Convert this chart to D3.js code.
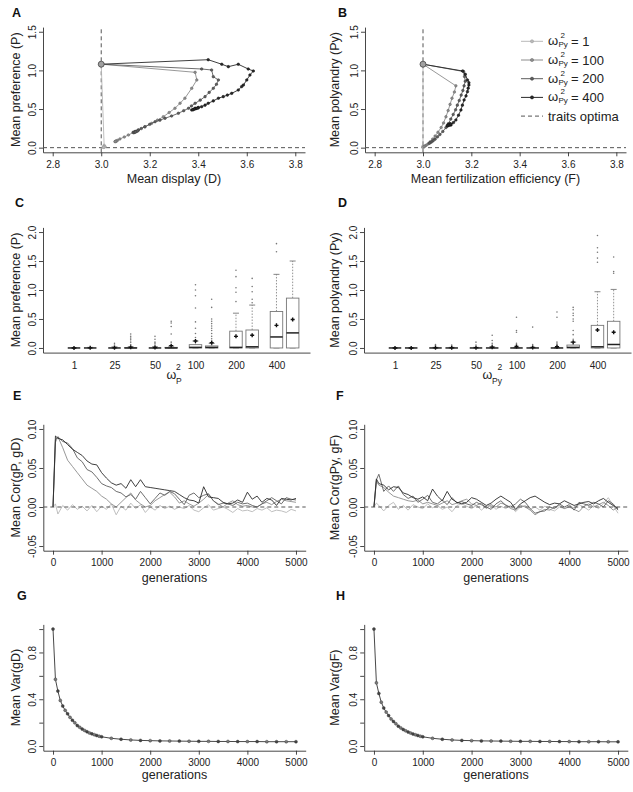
<!DOCTYPE html>
<html><head><meta charset="utf-8">
<script src="https://cdn.jsdelivr.net/npm/d3@7/dist/d3.min.js"></script>
<style>html,body{margin:0;padding:0;background:#fff}</style>
</head><body>
<svg id="chart" width="633" height="792" xmlns="http://www.w3.org/2000/svg"></svg>
<script>
// ---------------- data ----------------
const seriesLabels = ["1", "100", "200", "400"];
const seriesColors = ["#b8b8b8", "#8c8c8c", "#5e5e5e", "#2a2a2a"];
const seriesDark   = ["#9a9a9a", "#666666", "#3c3c3c", "#111111"];

// Panel A: [mean display D, mean preference P]
const trajA1 = [[3.00,1.08],[3.012,0.03],[3.014,0.015],[3.01,0.01],[3.016,0.012],[3.008,0.006],[3.012,0.008],[3.01,0.004]];
const trajA100 = [[3.00,1.08],[3.387,0.975],[3.394,0.876],[3.373,0.768],[3.345,0.64],[3.325,0.575],[3.304,0.51],[3.28,0.455],[3.256,0.40],[3.232,0.356],[3.208,0.315],[3.18,0.27],[3.153,0.229],[3.132,0.195],[3.112,0.164],[3.095,0.138],[3.077,0.113],[3.067,0.095],[3.06,0.085],[3.057,0.078],[3.062,0.082],[3.058,0.08]];
const trajA200 = [[3.00,1.08],[3.414,1.018],[3.455,1.005],[3.462,0.918],[3.483,0.876],[3.475,0.82],[3.462,0.768],[3.445,0.715],[3.428,0.66],[3.408,0.615],[3.387,0.574],[3.372,0.54],[3.36,0.51],[3.34,0.478],[3.318,0.445],[3.29,0.41],[3.263,0.38],[3.242,0.356],[3.222,0.336],[3.2,0.302],[3.18,0.27],[3.165,0.247],[3.153,0.229],[3.14,0.21],[3.132,0.2],[3.14,0.205],[3.135,0.195],[3.145,0.21],[3.138,0.2],[3.15,0.215],[3.142,0.205]];
const trajA400 = [[3.00,1.08],[3.441,1.138],[3.497,1.079],[3.524,1.048],[3.565,1.079],[3.606,1.018],[3.627,0.992],[3.613,0.94],[3.60,0.876],[3.586,0.81],[3.579,0.79],[3.565,0.746],[3.538,0.703],[3.52,0.68],[3.503,0.66],[3.483,0.64],[3.462,0.605],[3.441,0.574],[3.428,0.55],[3.414,0.53],[3.40,0.52],[3.387,0.51],[3.373,0.488],[3.39,0.505],[3.38,0.495],[3.4,0.515],[3.385,0.5],[3.395,0.51],[3.378,0.49]];

// Panel B: [mean fertilization efficiency F, mean polyandry Py]
const trajB1 = [[3.0,1.08],[3.0,0.02],[3.002,0.01],[3.0,0.005],[3.001,0.012],[3.0,0.008]];
const trajB100 = [[3.0,1.08],[3.136,0.80],[3.13,0.72],[3.12,0.64],[3.112,0.56],[3.104,0.48],[3.095,0.40],[3.085,0.32],[3.075,0.26],[3.062,0.2],[3.05,0.15],[3.04,0.11],[3.03,0.075],[3.022,0.05],[3.015,0.035],[3.01,0.025],[3.006,0.018],[3.004,0.012]];
const trajB200 = [[3.0,1.08],[3.168,0.985],[3.172,0.92],[3.175,0.86],[3.17,0.8],[3.165,0.74],[3.158,0.68],[3.15,0.61],[3.142,0.55],[3.135,0.49],[3.125,0.43],[3.115,0.37],[3.105,0.31],[3.095,0.26],[3.082,0.21],[3.07,0.17],[3.06,0.14],[3.05,0.11],[3.042,0.09],[3.036,0.075],[3.03,0.065],[3.026,0.058]];
const trajB400 = [[3.0,1.08],[3.164,0.992],[3.175,0.95],[3.184,0.876],[3.19,0.84],[3.19,0.81],[3.187,0.77],[3.184,0.725],[3.178,0.67],[3.17,0.617],[3.163,0.55],[3.157,0.488],[3.147,0.42],[3.136,0.358],[3.126,0.325],[3.116,0.294],[3.102,0.28],[3.11,0.29],[3.105,0.3],[3.112,0.31],[3.1,0.285],[3.108,0.295],[3.115,0.305]];

// Panels C / D boxplots (12 boxes: two per omega^2 group)
const groupLabels = ["1", "25", "50", "100", "200", "400"];
const groupPos = [1, 3.5, 6, 8.5, 11, 13.5];
const boxPos = [1, 2, 3.5, 4.5, 6, 7, 8.5, 9.5, 11, 12, 13.5, 14.5];

const cLo   = [0,0,0,0,0,0,0,0,0,0,0,0];
const cQ1   = [0,0,0,0,0,0,0,0,0,0,0,0];
const cMed  = [0,0,0,0,0,0,0.01,0.01,0.01,0.02,0.19,0.26];
const cQ3   = [0,0,0,0.005,0,0.01,0.057,0.035,0.29,0.31,0.63,0.86];
const cHi   = [0,0.01,0.02,0.02,0.02,0.03,0.12,0.08,0.6,0.74,1.27,1.5];
const cMean = [0,0.002,0.003,0.012,0.008,0.04,0.12,0.09,0.2,0.22,0.39,0.49];
const cOut  = [[],[],[0.05,0.08],[0.06,0.1,0.14,0.17,0.2,0.24],[0.05,0.08,0.1,0.15,0.2],[0.1,0.24,0.37,0.43,0.46],
               [0.18,0.25,0.34,0.45,0.69,0.9,1.0,1.09],[0.12,0.16,0.2,0.25,0.3,0.34,0.38,0.42,0.46,0.5,0.7,0.84],
               [0.8,0.96,1.04,1.23,1.34],[0.78,0.84,0.97,1.06,1.2],[1.66,1.8],[]];

const dLo   = [0,0,0,0,0,0,0,0,0,0,0,0];
const dQ1   = [0,0,0,0,0,0,0,0,0,0,0,0];
const dMed  = [0,0,0,0,0,0,0,0,0,0.01,0.02,0.06];
const dQ3   = [0,0,0,0,0,0,0,0,0,0.05,0.39,0.46];
const dHi   = [0,0,0.01,0.01,0.01,0.02,0.01,0.01,0.01,0.1,0.97,1.01];
const dMean = [0,0,0.003,0.004,0.005,0.012,0.025,0.01,0.02,0.1,0.31,0.27];
const dOut  = [[],[],[0.04,0.06],[0.03,0.05],[0.05,0.1],[0.05,0.08,0.13,0.22],
               [0.05,0.08,0.27,0.3,0.53],[0.03,0.06,0.36],[0.05,0.07,0.1,0.53,0.62],
               [0.15,0.23,0.3,0.46,0.5,0.56,0.6,0.66,0.7],[1.48,1.55,1.65,1.73,1.94],[1.29,1.32,1.57]];

// Panels E / F: mean genetic correlations
const gensCor = [0,50,100,200,300,400,500,600,700,800,900,1000,1100,1200,1300,1400,1500,1600,1700,1800,1900,2000,2100,2200,2300,2400,2500,2600,2700,2800,2900,3000,3100,3200,3300,3400,3500,3600,3700,3800,3900,4000,4100,4200,4300,4400,4500,4600,4700,4800,4900,5000];
const corE1 = [0,0.004,-0.009,0.002,-0.004,0.003,-0.003,0.001,-0.005,0.002,-0.006,0.001,
 -0.003,0.004,-0.010,0.001,-0.004,0.005,-0.002,0.003,-0.007,0.000,
 -0.004,0.002,-0.002,0.001,-0.003,0.000,-0.002,0.002,-0.004,-0.006,
 -0.001,0.003,-0.004,-0.002,0.000,-0.003,-0.007,-0.002,-0.005,-0.004,
 -0.006,-0.002,-0.004,-0.001,-0.006,-0.004,-0.005,-0.007,-0.003,-0.005];
const corE100 = [0,0.083,0.090,0.076,0.060,0.052,0.044,0.036,0.028,0.024,0.020,0.014,
 0.010,0.004,0.000,0.006,0.012,0.018,0.009,0.004,0.000,0.002,
 0.008,0.012,0.016,0.019,0.013,0.005,0.008,0.004,0.001,0.005,
 0.010,0.016,0.008,0.004,0.000,0.005,0.008,0.003,0.001,0.002,
 0.000,0.000,0.004,0.006,0.003,0.007,0.010,0.008,0.007,0.006];
const corE200 = [0,0.086,0.090,0.084,0.082,0.075,0.063,0.058,0.048,0.045,0.038,0.030,
 0.027,0.025,0.020,0.018,0.013,0.016,0.010,0.020,0.012,0.004,
 0.011,0.018,0.015,0.020,0.017,0.010,0.003,0.015,0.018,0.012,
 0.015,0.017,0.008,0.003,0.005,0.004,0.002,0.006,0.004,0.005,
 0.002,0.000,0.004,0.008,0.012,0.008,0.004,0.012,0.010,0.009];
const corE400 = [0,0.091,0.088,0.086,0.080,0.074,0.070,0.066,0.059,0.055,0.054,0.044,
 0.037,0.031,0.028,0.030,0.024,0.035,0.026,0.035,0.026,0.025,
 0.024,0.023,0.022,0.021,0.020,0.016,0.012,0.009,0.008,0.005,
 0.026,0.013,0.012,0.011,0.006,0.004,0.005,0.009,0.006,0.019,
 0.010,0.014,0.006,0.011,0.009,0.002,0.011,0.010,0.009,0.011];
const corF1 = [0,0.005,0.002,-0.005,0.002,0.006,-0.003,0.002,-0.004,0.003,0.000,-0.002,
 0.004,-0.001,0.002,-0.003,0.000,-0.006,0.002,0.004,0.001,-0.002,
 0.002,-0.004,0.001,0.003,-0.003,0.001,-0.002,0.002,-0.006,0.000,
 0.002,-0.003,0.000,-0.004,0.001,-0.003,-0.005,0.000,-0.002,0.001,
 -0.001,0.003,0.000,-0.004,0.002,-0.002,0.004,0.012,0.002,-0.008];
const corF100 = [0,0.033,0.028,0.025,0.019,0.014,0.012,0.010,0.008,0.007,0.009,0.004,
 0.006,0.004,0.002,0.005,0.008,0.003,0.005,0.008,0.010,0.004,
 0.002,0.005,-0.002,0.003,0.000,0.005,0.003,-0.002,-0.004,0.002,
 0.000,-0.004,-0.010,-0.006,-0.003,-0.004,0.000,0.002,-0.002,0.000,
 -0.003,-0.006,0.001,0.004,0.000,0.003,0.006,0.002,-0.004,0.000];
const corF200 = [0,0.035,0.042,0.020,0.027,0.020,0.027,0.016,0.011,0.014,0.006,0.010,
 0.015,0.006,0.004,0.009,0.003,0.012,0.005,0.007,0.004,0.002,
 0.006,0.003,0.000,-0.003,0.004,0.008,0.002,0.000,0.004,0.010,
 0.006,-0.002,-0.008,-0.006,-0.005,0.000,-0.002,0.004,0.000,0.003,
 -0.004,0.006,0.004,0.002,0.006,0.004,0.000,0.008,0.004,-0.004];
const corF400 = [0,0.036,0.030,0.028,0.022,0.026,0.025,0.018,0.016,0.012,0.010,0.013,
 0.008,0.023,0.014,0.008,0.020,0.010,0.006,0.004,0.006,0.012,
 0.010,0.006,0.002,0.005,0.010,0.014,0.010,0.006,-0.003,0.004,
 0.008,0.012,0.014,0.010,0.006,0.003,0.005,0.004,0.008,0.005,
 0.002,0.004,0.006,0.007,0.004,0.008,0.011,0.006,0.002,-0.002];

// Panels G / H: mean genetic variances
const gensVar = [0,50,100,150,200,250,300,350,400,450,500,550,600,650,700,750,800,850,900,950,1000,
 1200,1400,1600,1800,2000,2200,2400,2600,2800,3000,3200,3400,3600,3800,4000,4200,4400,4600,4800,5000];
const varG = [1.0,0.57,0.47,0.39,0.342,0.305,0.275,0.245,0.22,0.198,0.175,0.16,0.145,0.133,0.122,0.112,0.104,0.097,0.09,0.084,0.079,
 0.066,0.058,0.052,0.048,0.046,0.044,0.043,0.042,0.041,0.04,0.04,0.039,0.039,0.038,0.038,0.038,0.037,0.037,0.037,0.037];
const varH = [1.0,0.54,0.45,0.375,0.325,0.29,0.26,0.232,0.21,0.19,0.17,0.155,0.141,0.13,0.12,0.111,0.103,0.096,0.09,0.084,0.079,
 0.066,0.058,0.052,0.048,0.046,0.044,0.043,0.042,0.041,0.04,0.04,0.039,0.039,0.038,0.038,0.037,0.037,0.037,0.036,0.036];

// tick labels
const xTicksTrait = [2.8,3.0,3.2,3.4,3.6,3.8];
const xLabelsTrait = ["2.8","3.0","3.2","3.4","3.6","3.8"];
const yTicksAB = [0,0.5,1,1.5];
const yLabelsAB = ["0.0","0.5","1.0","1.5"];
const yTicksCD = [0,0.5,1,1.5,2];
const yLabelsCD = ["0.0","0.5","1.0","1.5","2.0"];
const xTicksGen = [0,1000,2000,3000,4000,5000];
const xLabelsGen = ["0","1000","2000","3000","4000","5000"];
const yTicksEF = [-0.05,0,0.05,0.1];
const yLabelsEF = ["-0.05","0.00","0.05","0.10"];
const yTicksGH = [0,0.2,0.4,0.6,0.8,1.0];
const yLabelsGH = ["0.0","","0.4","","0.8",""];

// ---------------- drawing ----------------
const FONT = "'Liberation Sans', Arial, Helvetica, sans-serif";
const AX = "#333";
const DASH = "#555";
const svg = d3.select("#chart").style("font-family", FONT);

function makePanel(p) {
  const x = d3.scaleLinear().domain(p.xd).range(p.xr);
  const y = d3.scaleLinear().domain(p.yd).range(p.yr);
  const g = svg.append("g");
  const noXTick = p.noXTick === true;
  const xa = d3.axisBottom(x).tickValues(p.xt).tickFormat((d, i) => p.xl[i])
    .tickSizeOuter(0).tickSizeInner(noXTick ? 0 : 4).tickPadding(noXTick ? 9 : 4.6);
  const gx = g.append("g").attr("transform", `translate(0,${p.yr[0]})`).call(xa);
  const ya = d3.axisLeft(y).tickValues(p.yt).tickFormat((d, i) => p.yl[i])
    .tickSizeOuter(0).tickSizeInner(4);
  const gy = g.append("g").attr("transform", `translate(${p.xr[0]},0)`).call(ya);
  [gx, gy].forEach(a => {
    a.attr("font-family", FONT).attr("font-size", 10);
    a.selectAll("path,line").attr("stroke", AX).attr("stroke-width", 0.9);
    a.selectAll("text").attr("fill", "#222");
  });
  gy.selectAll(".tick text").attr("transform", "rotate(-90)").attr("x", 0).attr("y", -7.5)
    .attr("dy", null).attr("text-anchor", "middle");
  svg.append("text").attr("x", p.letterX).attr("y", p.letterY).attr("font-size", 12.5)
    .attr("font-weight", "bold").attr("fill", "#111").text(p.letter);
  svg.append("text").attr("transform", `translate(${p.yTitleX},${(p.yr[0] + p.yr[1]) / 2}) rotate(-90)`)
    .attr("text-anchor", "middle").attr("font-size", 12.5).attr("fill", "#222").text(p.yTitle);
  if (p.xTitle) {
    svg.append("text").attr("x", (p.xr[0] + p.xr[1]) / 2).attr("y", p.xTitleY)
      .attr("text-anchor", "middle").attr("font-size", 12.5).attr("fill", "#222").text(p.xTitle);
  }
  return { g, x, y };
}

function dashedH(P, v) {
  P.g.append("line").attr("x1", P.x.range()[0]).attr("x2", P.x.range()[1])
    .attr("y1", P.y(v)).attr("y2", P.y(v)).attr("stroke", DASH).attr("stroke-width", 1)
    .attr("stroke-dasharray", "4,3");
}
function dashedV(P, v) {
  P.g.append("line").attr("y1", P.y.range()[0]).attr("y2", P.y.range()[1])
    .attr("x1", P.x(v)).attr("x2", P.x(v)).attr("stroke", DASH).attr("stroke-width", 1)
    .attr("stroke-dasharray", "4,3");
}

function drawTraj(P, data, i) {
  P.g.append("path").datum(data)
    .attr("d", d3.line().x(d => P.x(d[0])).y(d => P.y(d[1])))
    .attr("fill", "none").attr("stroke", seriesColors[i]).attr("stroke-width", 0.9);
  P.g.append("g").selectAll("circle").data(data.slice(1)).join("circle")
    .attr("cx", d => P.x(d[0])).attr("cy", d => P.y(d[1])).attr("r", 1.3)
    .attr("fill", seriesColors[i]).attr("stroke", seriesDark[i]).attr("stroke-width", 0.5);
}
function startPoint(P, d) {
  P.g.append("circle").attr("cx", P.x(d[0])).attr("cy", P.y(d[1])).attr("r", 3)
    .attr("fill", "#a0a0a0").attr("stroke", "#444").attr("stroke-width", 0.8);
}

function drawBoxes(P, lo, q1, med, q3, hi, mean, out) {
  const bw = 12.5, cw = 6;
  boxPos.forEach((pos, i) => {
    const cx = P.x(pos);
    const g = P.g.append("g");
    if (hi[i] > q3[i]) {
      g.append("line").attr("x1", cx).attr("x2", cx).attr("y1", P.y(q3[i])).attr("y2", P.y(hi[i]))
        .attr("stroke", "#888").attr("stroke-width", 0.9).attr("stroke-dasharray", "1.5,1.5");
    }
    g.append("line").attr("x1", cx - cw / 2).attr("x2", cx + cw / 2).attr("y1", P.y(hi[i])).attr("y2", P.y(hi[i]))
      .attr("stroke", "#777").attr("stroke-width", 0.9);
    g.append("line").attr("x1", cx - cw / 2).attr("x2", cx + cw / 2).attr("y1", P.y(lo[i])).attr("y2", P.y(lo[i]))
      .attr("stroke", "#777").attr("stroke-width", 0.9);
    g.append("rect").attr("x", cx - bw / 2).attr("y", P.y(q3[i])).attr("width", bw)
      .attr("height", Math.max(0, P.y(q1[i]) - P.y(q3[i])))
      .attr("fill", "#fff").attr("stroke", "#777").attr("stroke-width", 0.9);
    g.append("line").attr("x1", cx - bw / 2).attr("x2", cx + bw / 2).attr("y1", P.y(med[i])).attr("y2", P.y(med[i]))
      .attr("stroke", "#222").attr("stroke-width", 1.5);
    g.selectAll("circle").data(out[i]).join("circle").attr("cx", cx).attr("cy", d => P.y(d))
      .attr("r", 0.8).attr("fill", "#777");
    const my = P.y(mean[i]);
    g.append("path").attr("d", `M${cx - 2},${my}H${cx + 2}M${cx},${my - 2}V${my + 2}`)
      .attr("stroke", "#111").attr("stroke-width", 1.4);
  });
}

function drawLines(P, gens, arrs) {
  arrs.forEach((vals, i) => {
    P.g.append("path").datum(vals)
      .attr("d", d3.line().x((d, k) => P.x(gens[k])).y(d => P.y(d)))
      .attr("fill", "none").attr("stroke", seriesColors[i]).attr("stroke-width", 0.9);
  });
}

function drawVar(P, gens, vals) {
  P.g.append("path").datum(vals)
    .attr("d", d3.line().x((d, k) => P.x(gens[k])).y(d => P.y(d)))
    .attr("fill", "none").attr("stroke", "#333").attr("stroke-width", 0.9);
  P.g.append("g").selectAll("circle").data(vals).join("circle")
    .attr("cx", (d, k) => P.x(gens[k])).attr("cy", d => P.y(d)).attr("r", 1.5)
    .attr("fill", (d, k) => k % 2 ? "#7a7a7a" : "#444").attr("stroke", "#333").attr("stroke-width", 0.4);
}

// ---- Panel A ----
const PA = makePanel({ xd: [2.76, 3.84], xr: [43, 305], yd: [-0.06, 1.56], yr: [152.3, 27.1],
  xt: xTicksTrait, xl: xLabelsTrait, yt: yTicksAB, yl: yLabelsAB,
  letter: "A", letterX: 12, letterY: 17, yTitle: "Mean preference (P)", yTitleX: 19.5,
  xTitle: "Mean display (D)", xTitleY: 183 });
dashedH(PA, 0); dashedV(PA, 3.0);
[trajA1, trajA100, trajA200, trajA400].forEach((t, i) => drawTraj(PA, t, i));
startPoint(PA, trajA400[0]);

// ---- Panel B ----
const PB = makePanel({ xd: [2.76, 3.84], xr: [365, 626], yd: [-0.06, 1.56], yr: [152.3, 27.1],
  xt: xTicksTrait, xl: xLabelsTrait, yt: yTicksAB, yl: yLabelsAB,
  letter: "B", letterX: 338, letterY: 17, yTitle: "Mean polyandry (Py)", yTitleX: 338.5,
  xTitle: "Mean fertilization efficiency (F)", xTitleY: 183 });
dashedH(PB, 0); dashedV(PB, 3.0);
[trajB1, trajB100, trajB200, trajB400].forEach((t, i) => drawTraj(PB, t, i));
startPoint(PB, trajB400[0]);

// legend in B
const leg = svg.append("g");
seriesLabels.forEach((lab, i) => {
  const cy = 41.3 + i * 18.7;
  leg.append("line").attr("x1", 521).attr("x2", 543).attr("y1", cy).attr("y2", cy)
    .attr("stroke", seriesColors[i]).attr("stroke-width", 1);
  leg.append("circle").attr("cx", 532).attr("cy", cy).attr("r", 1.6)
    .attr("fill", seriesColors[i]).attr("stroke", seriesDark[i]).attr("stroke-width", 0.5);
  leg.append("text").attr("x", 548).attr("y", cy + 4).attr("font-size", 13).attr("fill", "#222").text("ω");
  leg.append("text").attr("x", 560.5).attr("y", cy - 3.2).attr("font-size", 8).attr("fill", "#222").text("2");
  leg.append("text").attr("x", 558.5).attr("y", cy + 6).attr("font-size", 8).attr("fill", "#222").text("Py");
  leg.append("text").attr("x", 571).attr("y", cy + 4.5).attr("font-size", 13).attr("fill", "#222").text("= " + lab);
});
{
  const cy = 41.3 + 4 * 18.7;
  leg.append("line").attr("x1", 521).attr("x2", 543).attr("y1", cy).attr("y2", cy)
    .attr("stroke", DASH).attr("stroke-width", 1).attr("stroke-dasharray", "4,3");
  leg.append("text").attr("x", 548).attr("y", cy + 4.5).attr("font-size", 13).attr("fill", "#222").text("traits optima");
}

// ---- Panel C ----
const PC = makePanel({ xd: [-0.914, 15.57], xr: [43, 310], yd: [-0.08, 2.08], yr: [352.6, 227.4],
  xt: groupPos, xl: groupLabels, yt: yTicksCD, yl: yLabelsCD, noXTick: true,
  letter: "C", letterX: 15, letterY: 207, yTitle: "Mean preference (P)", yTitleX: 19.5 });
drawBoxes(PC, cLo, cQ1, cMed, cQ3, cHi, cMean, cOut);
svg.append("text").attr("x", 166.5).attr("y", 378.5).attr("font-size", 12.5).attr("fill", "#222").text("ω");
svg.append("text").attr("x", 176).attr("y", 369.5).attr("font-size", 8.5).attr("fill", "#222").text("2");
svg.append("text").attr("x", 176).attr("y", 384).attr("font-size", 8.5).attr("fill", "#222").text("P");

// ---- Panel D ----
const PD = makePanel({ xd: [-0.914, 15.57], xr: [364, 631], yd: [-0.08, 2.08], yr: [352.6, 227.4],
  xt: groupPos, xl: groupLabels, yt: yTicksCD, yl: yLabelsCD, noXTick: true,
  letter: "D", letterX: 338, letterY: 207, yTitle: "Mean polyandry (Py)", yTitleX: 338.5 });
drawBoxes(PD, dLo, dQ1, dMed, dQ3, dHi, dMean, dOut);
svg.append("text").attr("x", 482.5).attr("y", 378.5).attr("font-size", 12.5).attr("fill", "#222").text("ω");
svg.append("text").attr("x", 497.5).attr("y", 369.5).attr("font-size", 8.5).attr("fill", "#222").text("2");
svg.append("text").attr("x", 492).attr("y", 384).attr("font-size", 8.5).attr("fill", "#222").text("Py");

// ---- Panel E ----
const PE = makePanel({ xd: [-200, 5200], xr: [43.3, 305.7], yd: [-0.056, 0.106], yr: [550.7, 424.3],
  xt: xTicksGen, xl: xLabelsGen, yt: yTicksEF, yl: yLabelsEF,
  letter: "E", letterX: 13, letterY: 400, yTitle: "Mean Cor(gP, gD)", yTitleX: 19.5,
  xTitle: "generations", xTitleY: 582 });
drawLines(PE, gensCor, [corE1, corE100, corE200, corE400]);
dashedH(PE, 0);

// ---- Panel F ----
const PF = makePanel({ xd: [-200, 5200], xr: [364.2, 627.8], yd: [-0.056, 0.106], yr: [550.7, 424.3],
  xt: xTicksGen, xl: xLabelsGen, yt: yTicksEF, yl: yLabelsEF,
  letter: "F", letterX: 336, letterY: 400, yTitle: "Mean Cor(gPy, gF)", yTitleX: 338.5,
  xTitle: "generations", xTitleY: 582 });
drawLines(PF, gensCor, [corF1, corF100, corF200, corF400]);
dashedH(PF, 0);

// ---- Panel G ----
const PG = makePanel({ xd: [-200, 5200], xr: [43.3, 305.7], yd: [-0.04, 1.04], yr: [750.7, 624.4],
  xt: xTicksGen, xl: xLabelsGen, yt: yTicksGH, yl: yLabelsGH,
  letter: "G", letterX: 17, letterY: 600, yTitle: "Mean Var(gD)", yTitleX: 19.5,
  xTitle: "generations", xTitleY: 779 });
drawVar(PG, gensVar, varG);

// ---- Panel H ----
const PH = makePanel({ xd: [-200, 5200], xr: [364.2, 627.8], yd: [-0.04, 1.04], yr: [750.7, 624.4],
  xt: xTicksGen, xl: xLabelsGen, yt: yTicksGH, yl: yLabelsGH,
  letter: "H", letterX: 336, letterY: 600, yTitle: "Mean Var(gF)", yTitleX: 338.5,
  xTitle: "generations", xTitleY: 779 });
drawVar(PH, gensVar, varH);
</script>
</body></html>
